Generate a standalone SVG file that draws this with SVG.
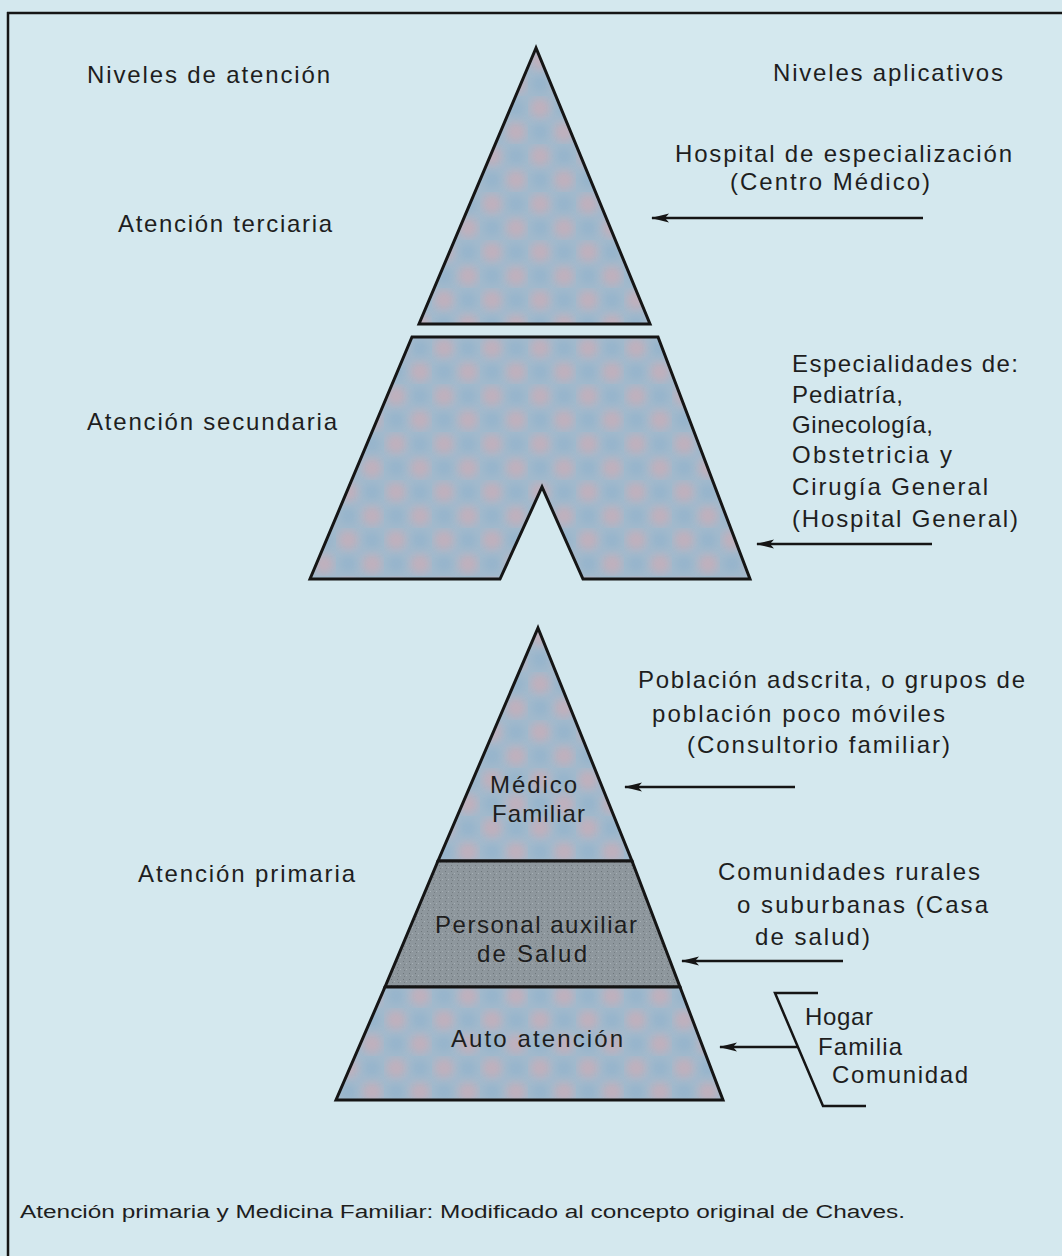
<svg xmlns="http://www.w3.org/2000/svg" width="1062" height="1256" viewBox="0 0 1062 1256">
<style>
  .t { font-family: "Liberation Sans", Arial, sans-serif; font-size: 24px; fill: #1e1e1e; }
  .cap { font-family: "Liberation Sans", Arial, sans-serif; font-size: 18px; fill: #1e1e1e; }
  .shape { stroke: #151515; stroke-width: 3; stroke-linejoin: miter; }
  .arrow { stroke: #151515; stroke-width: 2.5; fill: none; marker-end: url(#ah); }
  .line { stroke: #151515; stroke-width: 2.5; fill: none; }
</style>
<defs>
  <marker id="ah" markerWidth="20" markerHeight="10" refX="17" refY="5" orient="auto" markerUnits="userSpaceOnUse">
    <path d="M0,0.5 L18,5 L0,9.5 L4,5 z" fill="#151515"/>
  </marker>
  <filter id="soft" x="-10%" y="-10%" width="120%" height="120%">
    <feGaussianBlur stdDeviation="4"/>
  </filter>
  <pattern id="dots" width="48" height="48" patternUnits="userSpaceOnUse">
    <rect width="48" height="48" fill="#a2b9cc"/>
    <g fill="#c8adb8" opacity="0.8" filter="url(#soft)">
      <circle cx="12" cy="12" r="10"/>
      <circle cx="36" cy="36" r="10"/>
    </g>
    <g fill="#8ab0cc" opacity="0.55" filter="url(#soft)">
      <circle cx="36" cy="12" r="8"/>
      <circle cx="12" cy="36" r="8"/>
    </g>
  </pattern>
  <pattern id="grey" width="6" height="6" patternUnits="userSpaceOnUse">
    <rect width="6" height="6" fill="#8e979d"/>
    <rect x="1" y="1" width="1" height="1" fill="#6f777c"/>
    <rect x="4" y="3" width="1" height="1" fill="#a7b0b5"/>
    <rect x="2" y="4" width="1" height="1" fill="#767e83"/>
  </pattern>
</defs>

<rect x="0" y="0" width="1062" height="1256" fill="#d4e8ee"/>
<g id="frame">
  <line x1="7" y1="13" x2="1062" y2="13" class="line"/>
  <line x1="8" y1="12" x2="8" y2="1256" class="line"/>
</g>

<g id="headers">
  <text class="t" x="87" y="83" textLength="243" lengthAdjust="spacing">Niveles de atención</text>
  <text class="t" x="773" y="81" textLength="230" lengthAdjust="spacing">Niveles aplicativos</text>
</g>

<g id="tertiary">
  <polygon class="shape" points="536,48 419,324 650,324" fill="url(#dots)"/>
  <text class="t" x="118" y="232" textLength="214" lengthAdjust="spacing">Atención terciaria</text>
</g>

<g id="secondary">
  <polygon class="shape" points="412,337 658,337 750,579 583,579 542,487 500,579 310,579" fill="url(#dots)"/>
  <text class="t" x="87" y="430" textLength="250" lengthAdjust="spacing">Atención secundaria</text>
</g>

<g id="primary">
  <polygon class="shape" points="538,628 632,861 438,861" fill="url(#dots)"/>
  <polygon class="shape" points="438,861 632,861 680,987 385,987" fill="url(#grey)"/>
  <polygon class="shape" points="385,987 680,987 723,1100 336,1100" fill="url(#dots)"/>
  <text class="t" x="138" y="882" textLength="217" lengthAdjust="spacing">Atención primaria</text>
</g>

<g id="medico-familiar">
  <text class="t" x="490" y="793" textLength="87" lengthAdjust="spacing">Médico</text>
  <text class="t" x="492" y="822" textLength="93" lengthAdjust="spacing">Familiar</text>
</g>
<g id="personal-auxiliar">
  <text class="t" x="435" y="933" textLength="202" lengthAdjust="spacing" fill="#2a2a2a">Personal auxiliar</text>
  <text class="t" x="477" y="962" textLength="110" lengthAdjust="spacing" fill="#2a2a2a">de Salud</text>
</g>
<g id="auto-atencion">
  <text class="t" x="451" y="1047" textLength="172" lengthAdjust="spacing">Auto atención</text>
</g>

<g id="label-hospital-especializacion">
  <text class="t" x="675" y="162" textLength="337" lengthAdjust="spacing">Hospital de especialización</text>
  <text class="t" x="730" y="190" textLength="200" lengthAdjust="spacing">(Centro Médico)</text>
</g>
<g id="label-especialidades">
  <text class="t" x="792" y="372" textLength="226" lengthAdjust="spacing">Especialidades de:</text>
  <text class="t" x="792" y="403" textLength="111" lengthAdjust="spacing">Pediatría,</text>
  <text class="t" x="792" y="433" textLength="141" lengthAdjust="spacing">Ginecología,</text>
  <text class="t" x="792" y="463" textLength="160" lengthAdjust="spacing">Obstetricia y</text>
  <text class="t" x="792" y="495" textLength="196" lengthAdjust="spacing">Cirugía General</text>
  <text class="t" x="792" y="527" textLength="226" lengthAdjust="spacing">(Hospital General)</text>
</g>
<g id="label-poblacion">
  <text class="t" x="638" y="688" textLength="387" lengthAdjust="spacing">Población adscrita, o grupos de</text>
  <text class="t" x="652" y="722" textLength="293" lengthAdjust="spacing">población poco móviles</text>
  <text class="t" x="687" y="753" textLength="263" lengthAdjust="spacing">(Consultorio familiar)</text>
</g>
<g id="label-comunidades">
  <text class="t" x="718" y="880" textLength="262" lengthAdjust="spacing">Comunidades rurales</text>
  <text class="t" x="737" y="913" textLength="251" lengthAdjust="spacing">o suburbanas (Casa</text>
  <text class="t" x="755" y="945" textLength="115" lengthAdjust="spacing">de salud)</text>
</g>
<g id="label-hogar">
  <polyline class="line" points="818,993 775,993 823,1106 866,1106"/>
  <text class="t" x="805" y="1025" textLength="68" lengthAdjust="spacing">Hogar</text>
  <text class="t" x="818" y="1055" textLength="84" lengthAdjust="spacing">Familia</text>
  <text class="t" x="832" y="1083" textLength="136" lengthAdjust="spacing">Comunidad</text>
</g>

<g id="connectors">
  <line class="arrow" x1="923" y1="218" x2="652" y2="218"/>
  <line class="arrow" x1="932" y1="544" x2="757" y2="544"/>
  <line class="arrow" x1="795" y1="787" x2="625" y2="787"/>
  <line class="arrow" x1="843" y1="961" x2="682" y2="961"/>
  <line class="arrow" x1="798" y1="1047" x2="720" y2="1047"/>
</g>

<g id="caption">
  <text class="cap" x="20" y="1218" textLength="885" lengthAdjust="spacingAndGlyphs">Atención primaria y Medicina Familiar: Modificado al concepto original de Chaves.</text>
</g>
</svg>
